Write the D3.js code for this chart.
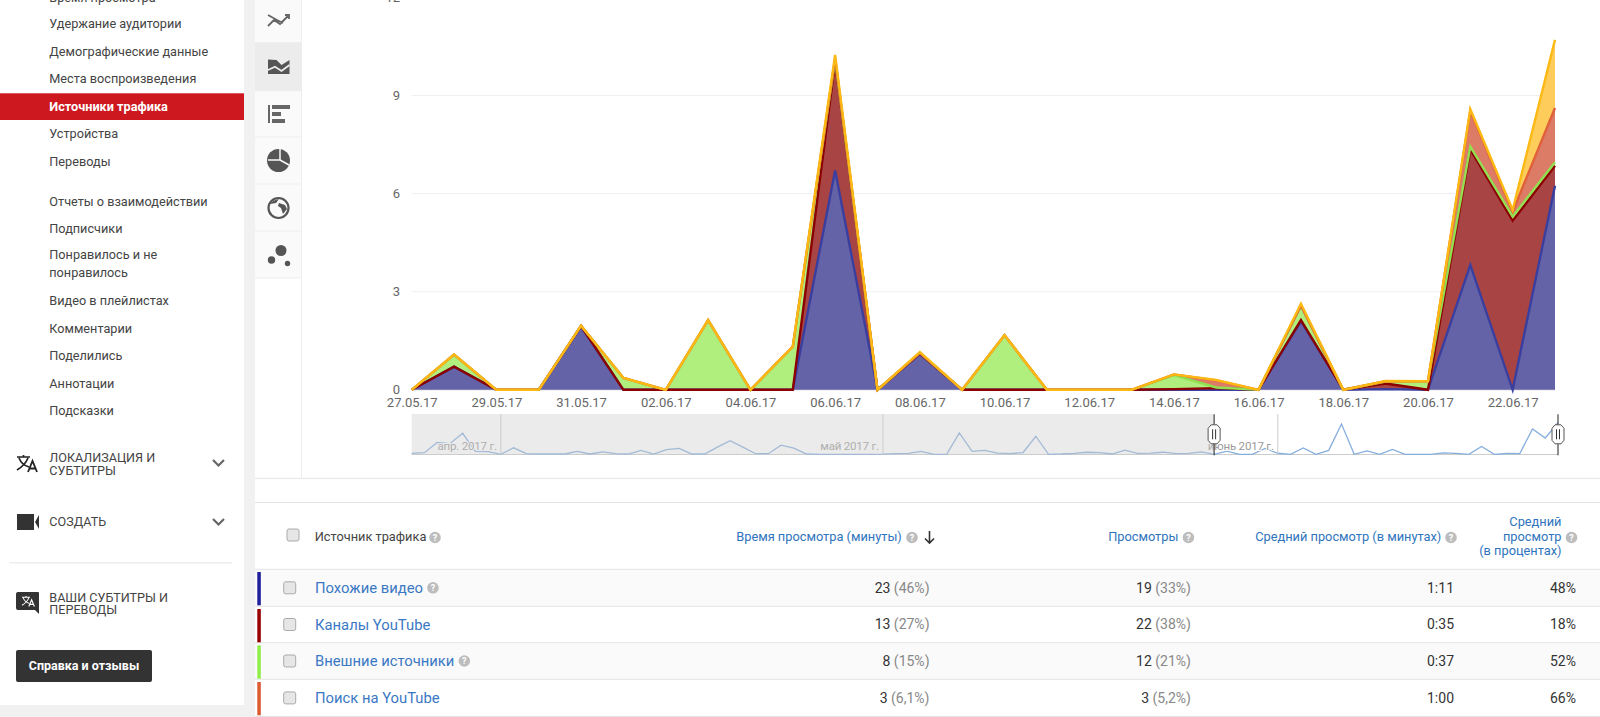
<!DOCTYPE html>
<html>
<head>
<meta charset="utf-8">
<script src="https://cdn.jsdelivr.net/npm/d3@7/dist/d3.min.js"></script>
<style>
  html, body { margin: 0; padding: 0; background: #fff; overflow: hidden; }
  svg { display: block; }
  text { font-family: Roboto, sans-serif; }
</style>
</head>
<body>
<div id="page"></div>
<script>
// Daily categories of the main chart
const days = ['27.05.17','28.05.17','29.05.17','30.05.17','31.05.17','01.06.17','02.06.17','03.06.17','04.06.17','05.06.17',
  '06.06.17','07.06.17','08.06.17','09.06.17','10.06.17','11.06.17','12.06.17','13.06.17','14.06.17','15.06.17',
  '16.06.17','17.06.17','18.06.17','19.06.17','20.06.17','21.06.17','22.06.17','23.06.17'];

// Series values - watch time per day, stacked bottom to top
const similarVideo = [0,.71,0,0,1.93,0,0,0,0,0,6.71,0,1.1,0,0,0,0,0,0,0,0,2.1,0,.02,0,3.82,0,6.24];
const channels     = [0,0,0,0,.02,0,0,0,0,0,3.34,0,.01,0,0,0,0,0,.02,.05,0,.03,0,.17,0,3.53,5.17,.61];
const external     = [0,.37,0,0,.01,.36,0,2.13,0,1.32,.05,0,.02,0,1.67,0,0,0,.43,.02,0,.44,0,.06,.26,.09,.13,.11];
const search       = [0,0,0,0,0,0,0,0,0,0,.04,0,0,0,0,0,0,0,.02,.22,0,0,0,.01,0,1.09,.15,1.66];
const other        = [0,0,0,0,0,0,0,0,0,0,.1,0,.02,0,0,0,0,0,0,.01,0,.06,0,.01,0,.05,.05,2.08];

const yTicks = [0, 3, 6, 9, 12];

// Navigator line, 25 March - 26 May. The rest of it is the daily total above.
const navigatorHistory = [.3,.55,4,3.6,7.1,1,.9,0,2.2,.2,.1,.1,.1,1,.1,.8,.2,.1,1.35,.1,1.6,2,.1,.1,2.4,4.6,2.4,.2,.2,3.1,2.1,.1,
  0,0,0,0,0,.05,.2,.3,1,0,0,7.2,1,1.3,.4,.2,.6,6.1,0,.1,.3,.7,.6,.1,1.4,.3,.4,.7,.2,.3,.8];
const navigatorMonths = [{label: 'апр. 2017 г.', index: 7}, {label: 'май 2017 г.', index: 37}, {label: 'июнь 2017 г.', index: 68}];

// Table
const sourceNames  = ['Похожие видео', 'Каналы YouTube', 'Внешние источники', 'Поиск на YouTube'];
const sourceHelp   = [true, false, true, false];
const sourceColors = ['#1f1f9c', '#980000', '#90ee4a', '#dc5a30'];
const watchTime    = ['23', '13', '8', '3'];
const watchShare   = ['(46%)', '(27%)', '(15%)', '(6,1%)'];
const viewCount    = ['19', '22', '12', '3'];
const viewShare    = ['(33%)', '(38%)', '(21%)', '(5,2%)'];
const avgDuration  = ['1:11', '0:35', '0:37', '1:00'];
const avgPercent   = ['48%', '18%', '52%', '66%'];

// Sidebar
const menuItems = [
  {label: 'Время просмотра', y: -2},
  {label: 'Удержание аудитории', y: 23.7},
  {label: 'Демографические данные', y: 51.3},
  {label: 'Места воспроизведения', y: 78.8},
  {label: 'Источники трафика', y: 106.3},
  {label: 'Устройства', y: 133.8},
  {label: 'Переводы', y: 161.5},
  {label: 'Отчеты о взаимодействии', y: 201.3},
  {label: 'Подписчики', y: 228.5},
  {label: 'Понравилось и не', y: 254.6},
  {label: 'понравилось', y: 272.8},
  {label: 'Видео в плейлистах', y: 300.5},
  {label: 'Комментарии', y: 328.2},
  {label: 'Поделились', y: 355.5},
  {label: 'Аннотации', y: 383.2},
  {label: 'Подсказки', y: 410.7}
];
const activeMenu = 'Источники трафика';
const sectionItems = [
  {label: 'ЛОКАЛИЗАЦИЯ И', y: 458}, {label: 'СУБТИТРЫ', y: 470.4},
  {label: 'СОЗДАТЬ', y: 521.5},
  {label: 'ВАШИ СУБТИТРЫ И', y: 597.4}, {label: 'ПЕРЕВОДЫ', y: 609.6}
];

const seriesStyles = [
  {key: 'similarVideo', fill: '#6563a8', line: '#3a3f9f'},
  {key: 'channels', fill: '#a84444', line: '#8c0000'},
  {key: 'external', fill: '#b0ef7d', line: '#90e050'},
  {key: 'search', fill: '#dc7b66', line: '#e0603a'},
  {key: 'other', fill: '#fdcc5b', line: '#fdb913'}
];

const width = 1600, height = 717;
const svg = d3.select('#page').append('svg')
  .attr('width', width)
  .attr('height', height);

function addText(parent, str, x, y, size, color, anchor, weight) {
  return parent.append('text')
    .attr('x', x)
    .attr('y', y)
    .attr('dy', '0.35em')
    .attr('font-size', size)
    .attr('fill', color)
    .attr('text-anchor', anchor || 'start')
    .attr('font-weight', weight || 400)
    .text(str);
}

function addHelp(parent, x, y) {
  parent.append('circle').attr('cx', x).attr('cy', y).attr('r', 5.8).attr('fill', '#bdbdbd');
  addText(parent, '?', x, y, 9, '#fff', 'middle', 700);
}

function addCheckbox(parent, cx, cy) {
  parent.append('rect')
    .attr('x', cx - 6).attr('y', cy - 6)
    .attr('width', 12).attr('height', 12)
    .attr('rx', 2)
    .attr('fill', '#e6e6e6')
    .attr('stroke', '#aaa');
}

// ---- Sidebar ----
let sidebar = svg.append('g').attr('class', 'sidebar');
sidebar.append('rect').attr('x', 0).attr('y', 705).attr('width', 255).attr('height', 12).attr('fill', '#f1f1f1');
sidebar.append('rect').attr('x', 244).attr('y', 0).attr('width', 11).attr('height', 717).attr('fill', '#f1f1f1');
sidebar.append('rect').attr('x', 0).attr('y', 93.3).attr('width', 244).attr('height', 26.7).attr('fill', '#cc181e');

menuItems.forEach(d => {
  let active = d.label === activeMenu;
  addText(sidebar, d.label, 49.3, d.y, 12.7, active ? '#fff' : '#444', 'start', active ? 700 : 400);
});
sectionItems.forEach(d => {
  addText(sidebar, d.label, 49.3, d.y, 12.6, '#444');
});

// Translate icons
function translateIcon(g, color) {
  g.append('path')
    .attr('d', 'M0 2H13M6.5 0V2M2 3C4 8 8 11 12 12M11 3C9 8 5 12 0 15')
    .attr('fill', 'none').attr('stroke', color).attr('stroke-width', 1.7);
  g.append('path')
    .attr('d', 'M11 17L15.5 6L20 17M12.6 13.5H18.4')
    .attr('fill', 'none').attr('stroke', color).attr('stroke-width', 1.8);
}
translateIcon(sidebar.append('g').attr('transform', 'translate(17,455)'), '#222');

sidebar.append('path')
  .attr('d', 'M17 514H34V530H17ZM35 522L39 515V529Z')
  .attr('fill', '#333');

sidebar.append('path')
  .attr('d', 'M18 592H38Q39 592 39 593V614L35 610H18Q16 610 16 608V594Q16 592 18 592Z')
  .attr('fill', '#333');
translateIcon(sidebar.append('g').attr('transform', 'translate(22,596) scale(.62)'), '#fff');

[463, 522].forEach(y => {
  sidebar.append('path')
    .attr('d', `M213 ${y - 3}L218.500 ${y + 2.500}L224 ${y - 3}`)
    .attr('fill', 'none').attr('stroke', '#666').attr('stroke-width', 2.2);
});

sidebar.append('rect').attr('x', 9).attr('y', 562).attr('width', 223).attr('height', 1.5).attr('fill', '#eee');
sidebar.append('rect')
  .attr('x', 16).attr('y', 650)
  .attr('width', 136).attr('height', 32)
  .attr('rx', 2)
  .attr('fill', '#333');
addText(sidebar, 'Справка и отзывы', 84, 666, 12.5, '#fff', 'middle', 700);

// ---- Chart type column ----
let iconColumn = svg.append('g').attr('class', 'icon-column');
iconColumn.append('rect').attr('x', 255).attr('y', 0).attr('width', 46).attr('height', 478).attr('fill', '#fff');
iconColumn.append('rect').attr('x', 255).attr('y', 0).attr('width', 46).attr('height', 278).attr('fill', '#fafafa');
iconColumn.append('rect').attr('x', 255).attr('y', 42.7).attr('width', 46).attr('height', 48).attr('fill', '#ececec');
[42.7, 90.7, 137, 184, 231, 278].forEach(y => {
  iconColumn.append('line')
    .attr('x1', 255).attr('x2', 301)
    .attr('y1', y).attr('y2', y)
    .attr('stroke', '#eee');
});
iconColumn.append('line').attr('x1', 301.5).attr('x2', 301.5).attr('y1', 0).attr('y2', 478).attr('stroke', '#eee');

iconColumn.append('path')
  .attr('d', 'M268 15L277 20L283 23M268 26L274 20L280 24L289 15M285 15H289V19')
  .attr('fill', 'none').attr('stroke', '#666').attr('stroke-width', 1.8);
iconColumn.append('path')
  .attr('d', 'M268 59.500L276.500 60L281.500 65L289.500 60V74H268Z')
  .attr('fill', '#555');
iconColumn.append('path')
  .attr('d', 'M268 70L275 66.700L281.500 71L289.500 65')
  .attr('fill', 'none').attr('stroke', '#ececec').attr('stroke-width', 1.8);
iconColumn.append('path')
  .attr('d', 'M268 105H270V123H268ZM272 105H290V109H272ZM272 112H281V116H272ZM272 119H285V123H272Z')
  .attr('fill', '#666');
iconColumn.append('circle').attr('cx', 278.500).attr('cy', 160.500).attr('r', 11.500).attr('fill', '#555');
iconColumn.append('path')
  .attr('d', 'M280 149V160L289 165M280 160H268')
  .attr('fill', 'none').attr('stroke', '#fafafa').attr('stroke-width', 1.5);
iconColumn.append('circle').attr('cx', 278.500).attr('cy', 208).attr('r', 10).attr('fill', '#fafafa').attr('stroke', '#555').attr('stroke-width', 2.2);
iconColumn.append('path')
  .attr('d', 'M270 204Q273 200 279 199L276 203ZM279 203L285 205L287 209L283 214L281 208L278 206Z')
  .attr('fill', '#555');
[[281, 250.500, 5.500], [271.500, 260, 3.700], [287.500, 263.500, 2.700]].forEach(c => {
  iconColumn.append('circle').attr('cx', c[0]).attr('cy', c[1]).attr('r', c[2]).attr('fill', '#555');
});

// ---- Main chart ----
const chartData = days.map((day, i) => ({
  day: day,
  similarVideo: similarVideo[i],
  channels: channels[i],
  external: external[i],
  search: search[i],
  other: other[i]
}));

let x_scale = d3.scalePoint().domain(days).range([411.7, 1555]);
let y_scale = d3.scaleLinear().domain([0, 12]).range([389.8, -2.6]);

let chart = svg.append('g').attr('class', 'chart');

// Grid
chart.append('g')
  .selectAll('line')
  .data(yTicks)
  .enter().append('line')
    .attr('x1', x_scale.range()[0])
    .attr('x2', x_scale.range()[1])
    .attr('y1', d => y_scale(d))
    .attr('y2', d => y_scale(d))
    .attr('stroke', d => d === 0 ? '#ccc' : '#efefef');

// Stack
let stacked = d3.stack().keys(seriesStyles.map(d => d.key))(chartData);

let area = d3.area()
  .x(d => x_scale(d.data.day))
  .y0(d => y_scale(d[0]))
  .y1(d => y_scale(d[1]));
let topLine = d3.line()
  .x(d => x_scale(d.data.day))
  .y(d => y_scale(d[1]));

chart.selectAll('path.area')
  .data(stacked)
  .enter().append('path')
    .attr('class', 'area')
    .attr('fill', (d, i) => seriesStyles[i].fill)
    .attr('d', area);
chart.selectAll('path.top-line')
  .data(stacked)
  .enter().append('path')
    .attr('class', 'top-line')
    .attr('fill', 'none')
    .attr('stroke', (d, i) => seriesStyles[i].line)
    .attr('stroke-width', 2.4)
    .attr('stroke-linejoin', 'miter')
    .attr('d', topLine);

// Axes
let xAxis = chart.append('g')
  .attr('transform', 'translate(0,390.3)')
  .call(d3.axisBottom(x_scale)
    .tickValues(days.filter((d, i) => i % 2 === 0))
    .tickSize(0)
    .tickPadding(7));
let yAxis = chart.append('g')
  .attr('transform', 'translate(406,0)')
  .call(d3.axisLeft(y_scale)
    .tickValues(yTicks)
    .tickSize(0)
    .tickPadding(6));
[xAxis, yAxis].forEach(axis => {
  axis.select('.domain').remove();
  axis.selectAll('text')
    .attr('font-family', 'Roboto, sans-serif')
    .attr('font-size', 13)
    .attr('fill', '#666');
});

// ---- Navigator ----
const navigatorValues = navigatorHistory.concat(chartData.map((d, i) =>
  similarVideo[i] + channels[i] + external[i] + search[i] + other[i]));
let nav_x = d3.scaleLinear().domain([0, navigatorValues.length - 1]).range([411.7, 1558]);
let nav_y = d3.scaleLinear().domain([0, 10.24]).range([454.3, 424]);
const navigatorStart = navigatorHistory.length;

let nav = svg.append('g').attr('class', 'navigator');
nav.append('line')
  .attr('x1', 411.7).attr('x2', 1558)
  .attr('y1', 454.5).attr('y2', 454.5)
  .attr('stroke', '#ccc');
nav.append('path')
  .datum(navigatorValues)
  .attr('fill', 'none')
  .attr('stroke', '#86aedc')
  .attr('stroke-width', 1.3)
  .attr('d', d3.line().x((d, i) => nav_x(i)).y(d => nav_y(d)));
navigatorMonths.forEach(d => {
  nav.append('line')
    .attr('x1', nav_x(d.index)).attr('x2', nav_x(d.index))
    .attr('y1', 414).attr('y2', 454)
    .attr('stroke', '#ccc');
  addText(nav, d.label, nav_x(d.index) - 4, 445.7, 11.5, '#999', 'end')
    .attr('letter-spacing', -0.2)
    .attr('stroke', '#fff')
    .attr('stroke-width', 2)
    .attr('paint-order', 'stroke');
});
nav.append('rect')
  .attr('x', 411.7).attr('y', 414)
  .attr('width', nav_x(navigatorStart) - 411.7).attr('height', 41)
  .attr('fill', 'rgb(205,205,205)')
  .attr('fill-opacity', 0.4);

[navigatorStart, navigatorValues.length - 1].forEach(i => {
  let handle = nav.append('g').attr('transform', `translate(${nav_x(i)},434.3)`);
  handle.append('line').attr('y1', -20).attr('y2', 21).attr('stroke', '#222');
  handle.append('path')
    .attr('d', 'M-6 -6L-3 -9.500H3L6 -6V6L3 9.500H-3L-6 6Z')
    .attr('fill', '#fff')
    .attr('stroke', '#555');
  handle.append('path')
    .attr('d', 'M-1.500 -5V5M1.500 -5V5')
    .attr('stroke', '#333');
});

// ---- Table ----
let table = svg.append('g').attr('class', 'table');
const rowLines = [569.3, 606.3, 642.7, 679.3, 716.5];

table.append('line').attr('x1', 255).attr('x2', width).attr('y1', 478.3).attr('y2', 478.3).attr('stroke', '#e4e4e4');
table.append('line').attr('x1', 255).attr('x2', width).attr('y1', 502.5).attr('y2', 502.5).attr('stroke', '#e4e4e4');

sourceNames.forEach((name, i) => {
  if (i % 2 === 0) {
    table.append('rect')
      .attr('x', 255).attr('y', rowLines[i])
      .attr('width', width - 255).attr('height', rowLines[i + 1] - rowLines[i])
      .attr('fill', '#fafafa');
  }
});
rowLines.forEach(y => {
  table.append('line').attr('x1', 255).attr('x2', width).attr('y1', y).attr('y2', y).attr('stroke', '#e4e4e4');
});

// Header
const headerBlue = '#2f74bd';
addCheckbox(table, 293, 535);
addText(table, 'Источник трафика', 314.7, 536.7, 12.8, '#444');
addHelp(table, 435, 537.500);
addText(table, 'Время просмотра (минуты)', 901.8, 536.7, 12.8, headerBlue, 'end');
addHelp(table, 912, 537.500);
table.append('path')
  .attr('d', 'M929.500 531V543M925 538.500L929.500 543L934 538.500')
  .attr('fill', 'none').attr('stroke', '#333').attr('stroke-width', 1.6);
addText(table, 'Просмотры', 1178.4, 536.7, 12.8, headerBlue, 'end');
addHelp(table, 1188.4, 537.500);
addText(table, 'Средний просмотр (в минутах)', 1441.3, 536.7, 12.8, headerBlue, 'end');
addHelp(table, 1451, 537.500);
addText(table, 'Средний', 1561.5, 521.7, 12.8, headerBlue, 'end');
addText(table, 'просмотр', 1561.5, 536.7, 12.8, headerBlue, 'end');
addText(table, '(в процентах)', 1561.5, 551, 12.8, headerBlue, 'end');
addHelp(table, 1571.5, 537.500);

// Rows
function addValue(y, right, value, share) {
  let t = addText(table, null, right, y, 14, '#333', 'end');
  t.append('tspan').text(value + ' ');
  t.append('tspan').attr('fill', '#888').text(share);
}
sourceNames.forEach((name, i) => {
  let cy = (rowLines[i] + rowLines[i + 1]) / 2;
  table.append('rect')
    .attr('x', 257.300).attr('y', rowLines[i] + 2.700)
    .attr('width', 3.500).attr('height', 33.300)
    .attr('fill', sourceColors[i]);
  addCheckbox(table, 289.700, cy);
  let label = addText(table, name, 315, cy, 14.8, '#3b78c4');
  if (sourceHelp[i]) {
    addHelp(table, 315 + label.node().getComputedTextLength() + 10, cy);
  }
  addValue(cy, 929.500, watchTime[i], watchShare[i]);
  addValue(cy, 1190.900, viewCount[i], viewShare[i]);
  addText(table, avgDuration[i], 1454, cy, 14, '#333', 'end');
  addText(table, avgPercent[i], 1576, cy, 14, '#333', 'end');
});
</script>
</body>
</html>
